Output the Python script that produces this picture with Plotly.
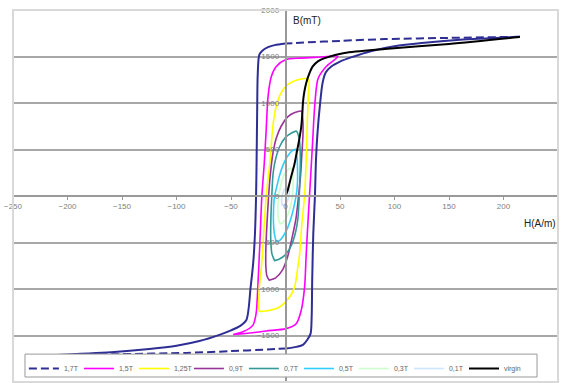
import plotly.graph_objects as go

# ---------------- data (H in A/m, B in mT) ----------------
# 1,7T loop: flat (dashed-looking) saturation tails and steep (solid) sides
h17_top = [215, 150, 91, 50, 17, 0]
b17_top = [1712, 1700, 1687, 1668, 1650, 1640]
h17_left = [0, -10, -16, -21, -24, -25.5, -26, -26.5, -27, -28, -29.5, -32, -36, -42, -50, -60, -79, -100, -125, -160, -215]
b17_left = [1640, 1622, 1600, 1565, 1520, 1300, 900, 400, 0, -400, -700, -980, -1337, -1400, -1445, -1490, -1560, -1610, -1645, -1680, -1712]
h17_bottom = [-215, -150, -91, -50, -17, 0]
b17_bottom = [-1712, -1700, -1687, -1668, -1650, -1640]
h17_right = [0, 10, 16, 20, 23, 24, 24.5, 25.5, 27, 28, 29.5, 31.5, 34, 37, 42, 50, 60, 79, 100, 125, 160, 215]
b17_right = [-1640, -1622, -1600, -1545, -1480, -1300, -900, -400, 0, 400, 700, 965, 1215, 1330, 1393, 1445, 1490, 1560, 1610, 1645, 1680, 1712]

# 1,5T loop
h15_up = [48, 30, 14, 0, -8.5, -13, -16, -17.7, -19.5, -21.7, -23.5, -25.4, -27, -30, -38, -48]
b15_up = [1500, 1492, 1483, 1465, 1393, 1286, 1072, 715, 350, 0, -500, -980, -1266, -1391, -1455, -1490]
h15_lo = [-48, -30, -17.7, 0.6, 9.8, 14.4, 17.5, 19, 20.5, 22, 23.5, 25, 27, 30, 38, 48]
b15_lo = [-1490, -1470, -1451, -1426, -1373, -1230, -980, -623, -300, 0, 300, 608, 1000, 1266, 1400, 1500]

# 1,25T loop
h125_up = [21, 11.3, 2, -4, -8.5, -11.6, -14, -17.7, -20, -22, -24, -24.5, -24]
b125_up = [1255, 1250, 1197, 1108, 965, 750, 400, 0, -400, -750, -980, -1200, -1240]
h125_lo = [-24, -17.7, -5.5, 3.7, 8.3, 11.3, 13, 15, 17.5, 19, 20, 21, 21]
b125_lo = [-1240, -1237, -1194, -1087, -980, -766, -623, -300, 0, 400, 800, 1100, 1255]

# 0,9T loop
h09_up = [15, 8, 2, -4, -8.5, -11.5, -14, -15.5, -17, -18, -18, -17, -15]
b09_up = [910, 895, 850, 750, 620, 460, 220, 0, -300, -560, -760, -860, -905]
h09_lo = [-15, -9, -3, 2, 6, 9.5, 12, 14, 15, 16, 16, 15.5, 15]
b09_lo = [-905, -880, -800, -650, -450, -250, 0, 250, 450, 650, 800, 870, 910]

# 0,7T loop
h07_up = [10, 5.5, 0, -5.2, -9, -11.3, -12.6, -13.5, -13.5, -12.5, -10]
b07_up = [697, 677, 630, 535, 400, 250, 0, -287, -480, -620, -695]
h07_lo = [-10, -5.5, 0, 5.2, 9, 11.3, 12.6, 13.5, 13.5, 12.5, 10]
b07_lo = [-695, -677, -630, -535, -400, -250, 0, 287, 480, 620, 697]

# 0,5T loop
h05_up = [9.5, 6, 2, -2, -5.5, -8, -10, -11, -11, -10, -8.5]
b05_up = [500, 485, 430, 340, 220, 100, 0, -150, -300, -420, -490]
h05_lo = [-8.5, -5.5, -2, 2, 5.5, 8, 10, 11, 11, 10.5, 9.5]
b05_lo = [-490, -480, -430, -340, -220, -100, 20, 150, 300, 420, 500]

# 0,3T loop
h03_up = [5, 2, -1.5, -4.5, -6.5, -7, -6.5, -5]
b03_up = [300, 280, 220, 110, -30, -170, -250, -295]
h03_lo = [-5, -2, 1.5, 4.5, 6.5, 7, 6.5, 5]
b03_lo = [-300, -280, -220, -110, 30, 170, 250, 300]

# 0,1T loop
h01_up = [3, 1, -1, -2.5, -3.5, -3.5, -3]
b01_up = [100, 95, 70, 30, -20, -70, -100]
h01_lo = [-3, -1, 1, 2.5, 3.5, 3.5, 3]
b01_lo = [-100, -95, -70, -30, 20, 70, 100]

# virgin curve
h_virgin = [0, 2, 5, 8, 10, 12.5, 14.5, 15.5, 16, 17, 19, 22, 25, 30, 36, 54, 91, 150, 215]
b_virgin = [0, 60, 200, 330, 450, 600, 750, 900, 1000, 1100, 1215, 1320, 1393, 1450, 1483, 1537, 1580, 1635, 1710]

x_ticks = [-250, -200, -150, -100, -50, 0, 50, 100, 150, 200, 250]
y_ticks = [-2000, -1500, -1000, -500, 0, 500, 1000, 1500, 2000]

# ---------------- figure ----------------
fig = go.Figure()
BLUE = "#2e2e94"

fig.add_trace(go.Scatter(
    x=h17_top + [None] + h17_bottom, y=b17_top + [None] + b17_bottom,
    mode="lines", name="1,7T", legendgroup="g17", connectgaps=False,
    line=dict(color=BLUE, width=2, dash="8px,4px", shape="spline", smoothing=0.8)))
fig.add_trace(go.Scatter(
    x=h17_left + [None] + h17_right, y=b17_left + [None] + b17_right,
    mode="lines", name="1,7T", legendgroup="g17", showlegend=False, connectgaps=False,
    line=dict(color=BLUE, width=2, shape="spline", smoothing=0.8)))

loops = [
    ("1,5T", h15_up + h15_lo, b15_up + b15_lo, "#ff00ff"),
    ("1,25T", h125_up + h125_lo, b125_up + b125_lo, "#ffff00"),
    ("0,9T", h09_up + h09_lo, b09_up + b09_lo, "#993399"),
    ("0,7T", h07_up + h07_lo, b07_up + b07_lo, "#339999"),
    ("0,5T", h05_up + h05_lo, b05_up + b05_lo, "#33ccff"),
    ("0,3T", h03_up + h03_lo, b03_up + b03_lo, "#ccffcc"),
    ("0,1T", h01_up + h01_lo, b01_up + b01_lo, "#cce6ff"),
]
for name, hx, by, col in loops:
    fig.add_trace(go.Scatter(x=hx, y=by, mode="lines", name=name,
                             line=dict(color=col, width=1.6, shape="spline", smoothing=0.8)))

fig.add_trace(go.Scatter(x=h_virgin, y=b_virgin, mode="lines", name="virgin", legend="legend2",
                         line=dict(color="#000000", width=2, shape="spline", smoothing=0.8)))

FONT = "Liberation Sans, Arial, sans-serif"
tickfont = dict(family=FONT, size=8, color="#808080")
legfont = dict(family=FONT, size=7, color="#666666")
fig.update_layout(
    width=565, height=383,
    margin=dict(l=13, r=7, t=10, b=0),
    paper_bgcolor="white", plot_bgcolor="white",
    font=dict(family=FONT, size=8, color="#808080"),
    xaxis=dict(range=[-250, 250], tickvals=x_ticks, showgrid=False, zeroline=False,
               showline=True, linecolor="#999999", linewidth=1.5,
               anchor="free", position=0.5, ticks="outside", ticklen=3,
               tickcolor="#999999", tickfont=tickfont, automargin=False),
    yaxis=dict(range=[-2000, 2000], tickvals=y_ticks, showgrid=True,
               gridcolor="#a8a8a8", gridwidth=1.5, zeroline=False,
               showline=True, linecolor="#999999", linewidth=1.5,
               anchor="free", position=0.5, ticks="outside", ticklen=4,
               tickcolor="#999999", tickfont=tickfont, automargin=False),
    legend=dict(orientation="h", x=0.02, y=0.075, xanchor="left", yanchor="top",
                bgcolor="rgba(0,0,0,0)", borderwidth=0, font=legfont,
                itemwidth=30, entrywidthmode="pixels", entrywidth=10, tracegroupgap=0),
    legend2=dict(orientation="h", x=0.8275, y=0.075, xanchor="left", yanchor="top",
                 bgcolor="rgba(0,0,0,0)", borderwidth=0, font=legfont, itemwidth=30),
    showlegend=True,
)
# plot-area frame
fig.add_shape(type="rect", xref="x domain", yref="y domain", x0=0, x1=1, y0=0, y1=1,
              line=dict(color="#d9d9d9", width=2), layer="above")
# legend frame
fig.add_shape(type="rect", xref="paper", yref="paper", x0=0.022, x1=0.9615, y0=0.0134, y1=0.075,
              line=dict(color="#999999", width=1), fillcolor="white", layer="above")
fig.add_annotation(x=5, y=1888, xref="x", yref="y", text="B(mT)", showarrow=False,
                   xanchor="left", yanchor="middle",
                   font=dict(family=FONT, size=10, color="#222222"))
fig.add_annotation(x=250, y=-294, xref="x", yref="y", text="H(A/m)", showarrow=False,
                   xanchor="right", yanchor="middle",
                   font=dict(family=FONT, size=10, color="#222222"))

fig.write_html("out.html", config={"displayModeBar": False},
               post_script="document.body.style.margin='0px';")
